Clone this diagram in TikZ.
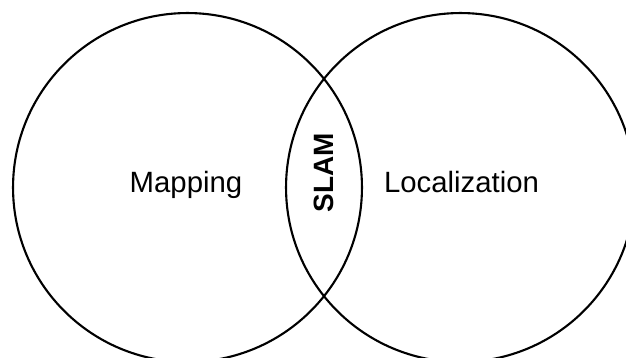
\documentclass[tikz,border=0pt]{standalone}
\usepackage{fontspec}
\setmainfont{Liberation Sans}
\usepackage{tikz}
\usetikzlibrary{positioning}
\tikzset{
  setcircle/.style={draw=black, circle, line width=1.2pt, inner sep=0pt,
                    minimum size=6.98cm},
  setlabel/.style={font=\fontsize{16.7}{20}\selectfont, anchor=base},
  lenslabel/.style={font=\fontsize{15.9}{19}\selectfont\bfseries, rotate=90}
}

\begin{document}
\begin{tikzpicture}[x=0.02cm, y=-0.02cm]
  \useasboundingbox (0,0) rectangle (626,358);
  \clip (0,0) rectangle (626,358);

  % The two sets
  \node[setcircle] (mapcirc) at (187.5,187.5) {};
  \node[setcircle] (loccirc) at (460.5,187.5) {};

  % Labels
  \node[setlabel] (maplabel) at (186,192.5) {Mapping};
  \node[setlabel] (loclabel) at (461.5,192.5) {Localization};
  \node[lenslabel] (slam) at (324,172.5) {SLAM};
\end{tikzpicture}
\end{document}
